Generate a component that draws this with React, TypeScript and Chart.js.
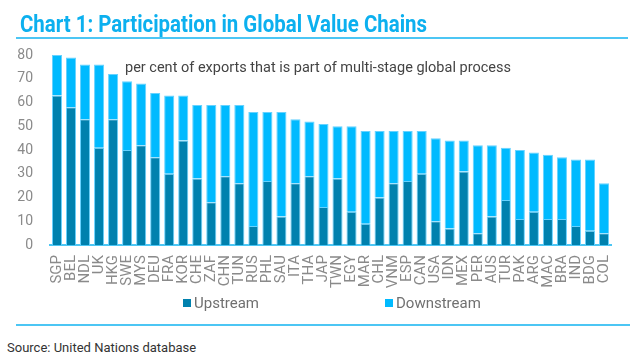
import React, { useEffect, useLayoutEffect, useRef } from "react";
import { Chart, registerables } from "chart.js";

Chart.register(...registerables);

const countries = [
  "SGP", "BEL", "NDL", "UK", "HKG", "SWE", "MYS", "DEU", "FRA", "KOR",
  "CHE", "ZAF", "CHN", "TUN", "RUS", "PHL", "SAU", "ITA", "THA", "JAP",
  "TWN", "EGY", "MAR", "CHL", "VNM", "ESP", "CAN", "USA", "IDN", "MEX",
  "PER", "AUS", "TUR", "PAK", "ARG", "MAC", "BRA", "IND", "BDG", "COL",
];

const upstream = [
  63, 58, 53, 41, 53, 40, 42, 37, 30, 44,
  28, 18, 29, 26, 8, 27, 12, 26, 29, 16,
  28, 14, 9, 20, 26, 27, 30, 10, 7, 31,
  5, 12, 19, 11, 14, 11, 11, 8, 6, 5,
];

const downstream = [
  17, 21, 23, 35, 19, 29, 26, 27, 33, 19,
  31, 41, 30, 33, 48, 29, 44, 27, 23, 35,
  22, 36, 39, 28, 22, 21, 18, 35, 37, 13,
  37, 30, 22, 29, 25, 27, 26, 28, 30, 21,
];

const yMin = 0;
const yMax = 80;
const yStep = 10;

const TITLE = "Chart 1: Participation in Global Value Chains";
const NOTE = "per cent of exports that is part of multi-stage global process";
const SOURCE = "Source: United Nations database";
const SERIES_NAMES = ["Upstream", "Downstream"];

const UP_COLOR = "#0081ae";
const DOWN_COLOR = "#00baff";
const EDGE_COLOR = "#66d2ff";
const RULE_COLOR = "#4cc6f4";
const TITLE_COLOR = "#0cb0ef";
const FONT = "Roboto, 'Noto Sans', sans-serif";

const notePlugin = {
  id: "notePlugin",
  afterDraw(chart: any) {
    const { ctx, chartArea } = chart;
    ctx.save();
    ctx.font = `14.5px ${FONT}`;
    ctx.fillStyle = "#444444";
    ctx.textAlign = "left";
    ctx.textBaseline = "middle";
    ctx.fillText(NOTE, chartArea.left + 75, chartArea.top + 13);
    ctx.restore();
  },
};

export default function App() {
  const canvasRef = useRef<HTMLCanvasElement | null>(null);
  const titleRef = useRef<HTMLSpanElement | null>(null);

  useLayoutEffect(() => {
    const el = titleRef.current;
    if (el) {
      el.style.transform = "none";
      const w = el.getBoundingClientRect().width;
      if (w > 0) el.style.transform = `scaleX(${407 / w})`;
    }
  }, []);

  useEffect(() => {
    const canvas = canvasRef.current;
    if (!canvas) return;
    const chart = new Chart(canvas, {
      type: "bar",
      data: {
        labels: countries,
        datasets: [
          {
            label: SERIES_NAMES[0],
            data: upstream,
            backgroundColor: UP_COLOR,
            borderColor: EDGE_COLOR,
            borderWidth: 1,
            barPercentage: 0.72,
            categoryPercentage: 1,
            stack: "s",
          },
          {
            label: SERIES_NAMES[1],
            data: downstream,
            backgroundColor: DOWN_COLOR,
            borderColor: EDGE_COLOR,
            borderWidth: 1,
            barPercentage: 0.72,
            categoryPercentage: 1,
            stack: "s",
          },
        ],
      },
      options: {
        responsive: false,
        animation: false,
        devicePixelRatio: 1,
        layout: { padding: { left: 0, right: 29, top: 55, bottom: 0 } },
        plugins: {
          legend: { display: false },
          tooltip: { enabled: false },
          title: { display: false },
        },
        scales: {
          x: {
            stacked: true,
            grid: { display: false, drawTicks: false },
            border: { display: true, color: RULE_COLOR, width: 2 },
            ticks: {
              autoSkip: false,
              maxRotation: 90,
              minRotation: 90,
              padding: 10,
              color: "#8a8a8a",
              font: { family: FONT, size: 15 },
            },
            afterFit: (s: any) => {
              s.height = 55;
            },
          },
          y: {
            stacked: true,
            min: yMin,
            max: yMax,
            grid: { display: false, drawTicks: false },
            border: { display: false },
            ticks: {
              stepSize: yStep,
              padding: 17,
              color: "#8a8a8a",
              font: { family: FONT, size: 14 },
            },
            afterFit: (s: any) => {
              s.width = 50;
            },
          },
        },
      },
      plugins: [notePlugin],
    });
    return () => chart.destroy();
  }, []);

  return (
    <div
      style={{
        position: "fixed",
        left: 0,
        top: 0,
        width: 640,
        height: 360,
        background: "#ffffff",
        overflow: "hidden",
        fontFamily: FONT,
      }}
    >
      <canvas
        ref={canvasRef}
        width={640}
        height={300}
        style={{ position: "absolute", left: 0, top: 0, width: 640, height: 300 }}
      />
      <span
        ref={titleRef}
        style={{
          position: "absolute",
          left: 20,
          top: 12,
          fontSize: 24,
          lineHeight: "24px",
          fontWeight: 700,
          color: TITLE_COLOR,
          whiteSpace: "nowrap",
          transformOrigin: "left center",
        }}
      >
        {TITLE}
      </span>
      <div style={{ position: "absolute", left: 16, top: 37, width: 612, height: 2, background: RULE_COLOR }} />
      <div style={{ position: "absolute", left: 183, top: 299, width: 8, height: 8, background: UP_COLOR }} />
      <span
        style={{ position: "absolute", left: 194, top: 294, fontSize: 15, lineHeight: "18px", color: "#707070", whiteSpace: "nowrap" }}
      >
        {SERIES_NAMES[0]}
      </span>
      <div style={{ position: "absolute", left: 385, top: 299, width: 8, height: 8, background: DOWN_COLOR }} />
      <span
        style={{ position: "absolute", left: 396, top: 294, fontSize: 15, lineHeight: "18px", color: "#707070", whiteSpace: "nowrap" }}
      >
        {SERIES_NAMES[1]}
      </span>
      <div style={{ position: "absolute", left: 16, top: 324, width: 614, height: 2, background: RULE_COLOR }} />
      <span
        style={{ position: "absolute", left: 7, top: 340, fontSize: 13, lineHeight: "16px", color: "#333333", whiteSpace: "nowrap" }}
      >
        {SOURCE}
      </span>
    </div>
  );
}
